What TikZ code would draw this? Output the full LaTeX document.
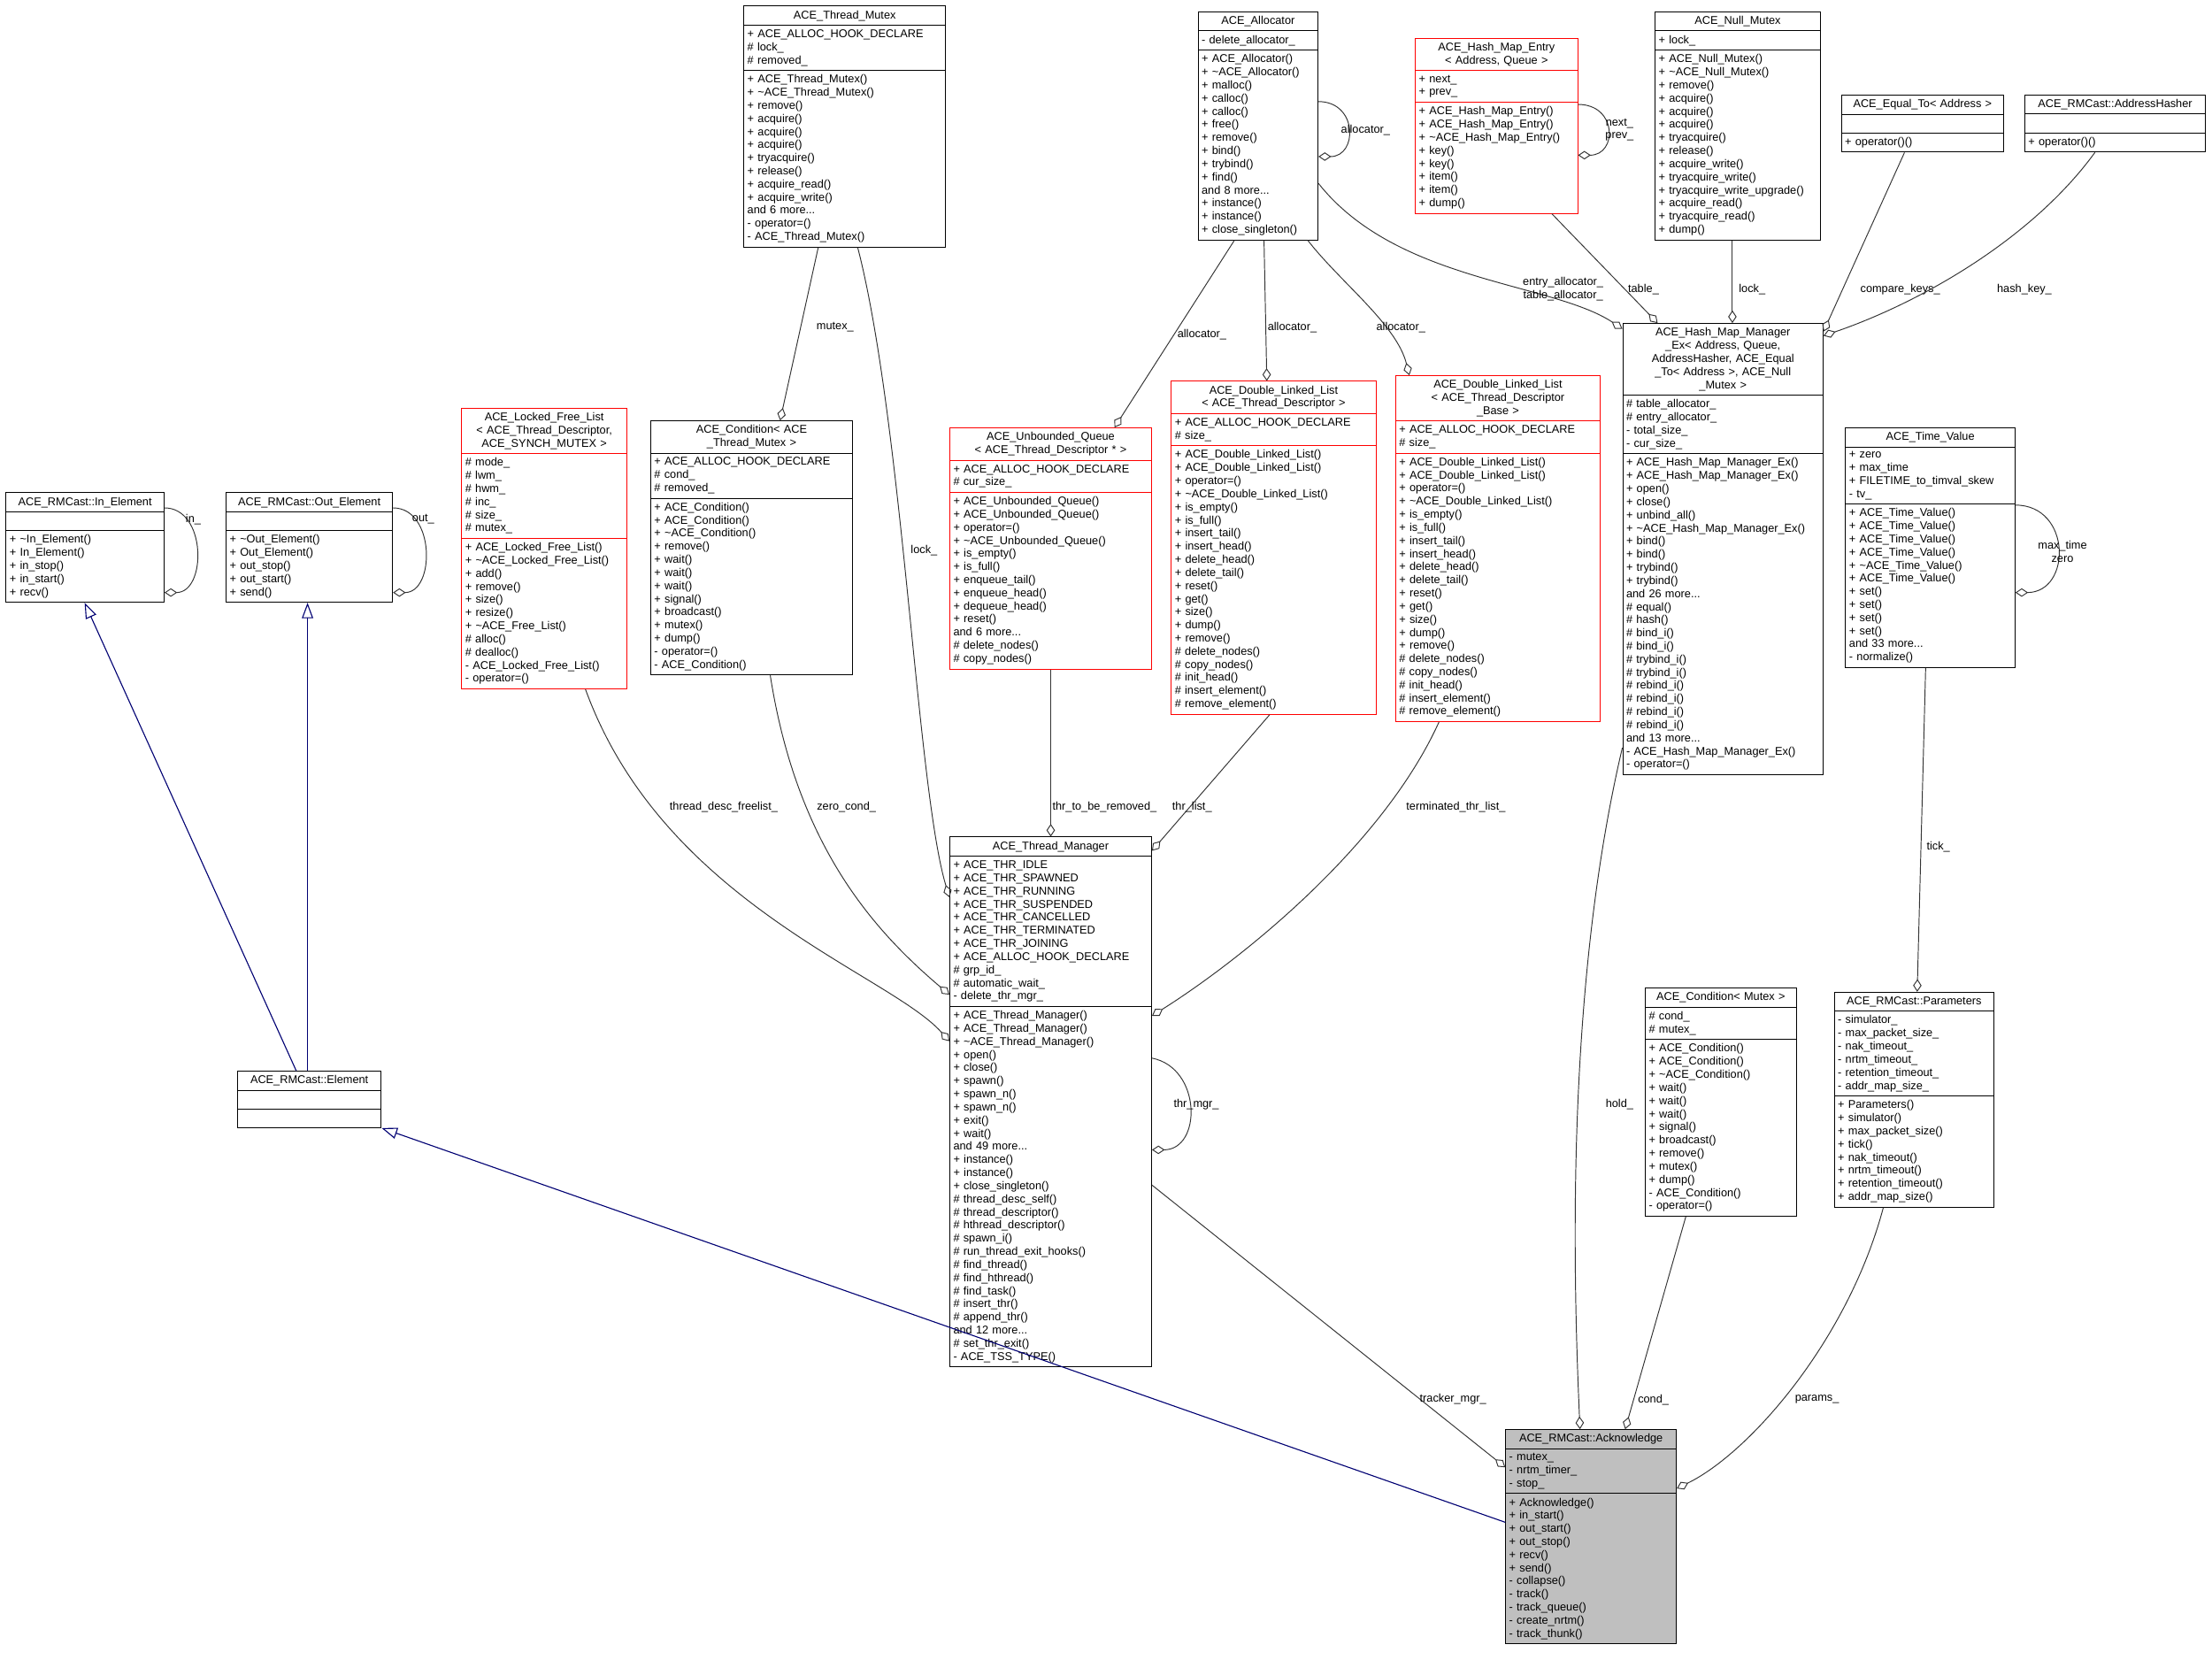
\documentclass[tikz,border=0pt]{standalone}
\usepackage{fontspec}
\setmainfont{Liberation Sans}
\usetikzlibrary{shapes.multipart,arrows.meta}
\catcode`\_=12
\newcommand\tl{\textasciitilde}
\tikzset{
 cls/.style={rectangle split, rectangle split parts=3, draw=black, fill=white, anchor=north west,
   inner xsep=2.5pt, inner ysep=2.8pt, font=\fontsize{8}{9.3}\selectfont, line width=0.6pt, align=left,
   rectangle split empty part height=7pt},
 tcls/.style={cls, draw=red},
 lbl/.style={font=\fontsize{8}{9.3}\selectfont, inner sep=0pt, align=center},
 agg/.style={draw=black!80, line width=0.6pt, -{Diamond[open,length=9pt,width=6pt]}},
 inh/.style={draw=blue!45!black, line width=0.7pt, -{Triangle[open,length=11pt,width=8pt]}}
}
\begin{document}
\begin{tikzpicture}[x=1pt,y=-1pt]
\useasboundingbox (0,0) rectangle (1568,1176);
\fill[white] (0,0) rectangle (1568,1176);
\newcommand\E{\rule{0pt}{7pt}}
% boxes
\node[cls,text width=138pt] (tmx) at (527,4) {\centering ACE_Thread_Mutex\par
\nodepart{two}+ ACE_ALLOC_HOOK_DECLARE\\\# lock_\\\# removed_
\nodepart{three}+ ACE_Thread_Mutex()\\+ \tl ACE_Thread_Mutex()\\+ remove()\\+ acquire()\\+ acquire()\\+ acquire()\\+ tryacquire()\\+ release()\\+ acquire_read()\\+ acquire_write()\\and 6 more...\\- operator=()\\- ACE_Thread_Mutex()};
\node[cls,text width=80pt] (alloc) at (849,8) {\centering ACE_Allocator\par
\nodepart{two}- delete_allocator_
\nodepart{three}+ ACE_Allocator()\\+ \tl ACE_Allocator()\\+ malloc()\\+ calloc()\\+ calloc()\\+ free()\\+ remove()\\+ bind()\\+ trybind()\\+ find()\\and 8 more...\\+ instance()\\+ instance()\\+ close_singleton()};
\node[tcls,text width=110pt] (hme) at (1003,27) {\centering ACE_Hash_Map_Entry\\< Address, Queue >\par
\nodepart{two}+ next_\\+ prev_
\nodepart{three}+ ACE_Hash_Map_Entry()\\+ ACE_Hash_Map_Entry()\\+ \tl ACE_Hash_Map_Entry()\\+ key()\\+ key()\\+ item()\\+ item()\\+ dump()};
\node[cls,text width=112pt] (nm) at (1173,8) {\centering ACE_Null_Mutex\par
\nodepart{two}+ lock_
\nodepart{three}+ ACE_Null_Mutex()\\+ \tl ACE_Null_Mutex()\\+ remove()\\+ acquire()\\+ acquire()\\+ acquire()\\+ tryacquire()\\+ release()\\+ acquire_write()\\+ tryacquire_write()\\+ tryacquire_write_upgrade()\\+ acquire_read()\\+ tryacquire_read()\\+ dump()};
\node[cls,text width=110pt] (eq) at (1305,67) {\centering ACE_Equal_To< Address >\par
\nodepart{two}\E
\nodepart{three}+ operator()()};
\node[cls,text width=123pt] (ah) at (1435,67) {\centering ACE_RMCast::AddressHasher\par
\nodepart{two}\E
\nodepart{three}+ operator()()};
\node[cls,text width=137pt] (hmm) at (1150,229) {\centering ACE_Hash_Map_Manager\\_Ex< Address, Queue,\\ AddressHasher, ACE_Equal\\_To< Address >, ACE_Null\\_Mutex >\par
\nodepart{two}\# table_allocator_\\\# entry_allocator_\\- total_size_\\- cur_size_
\nodepart{three}+ ACE_Hash_Map_Manager_Ex()\\+ ACE_Hash_Map_Manager_Ex()\\+ open()\\+ close()\\+ unbind_all()\\+ \tl ACE_Hash_Map_Manager_Ex()\\+ bind()\\+ bind()\\+ trybind()\\+ trybind()\\and 26 more...\\\# equal()\\\# hash()\\\# bind_i()\\\# bind_i()\\\# trybind_i()\\\# trybind_i()\\\# rebind_i()\\\# rebind_i()\\\# rebind_i()\\\# rebind_i()\\and 13 more...\\- ACE_Hash_Map_Manager_Ex()\\- operator=()};
\node[cls,text width=115pt] (tv) at (1308,303) {\centering ACE_Time_Value\par
\nodepart{two}+ zero\\+ max_time\\+ FILETIME_to_timval_skew\\- tv_
\nodepart{three}+ ACE_Time_Value()\\+ ACE_Time_Value()\\+ ACE_Time_Value()\\+ ACE_Time_Value()\\+ \tl ACE_Time_Value()\\+ ACE_Time_Value()\\+ set()\\+ set()\\+ set()\\+ set()\\and 33 more...\\- normalize()};
\node[tcls,text width=112pt] (lfl) at (327,289) {\centering ACE_Locked_Free_List\\< ACE_Thread_Descriptor,\\ ACE_SYNCH_MUTEX >\par
\nodepart{two}\# mode_\\\# lwm_\\\# hwm_\\\# inc_\\\# size_\\\# mutex_
\nodepart{three}+ ACE_Locked_Free_List()\\+ \tl ACE_Locked_Free_List()\\+ add()\\+ remove()\\+ size()\\+ resize()\\+ \tl ACE_Free_List()\\\# alloc()\\\# dealloc()\\- ACE_Locked_Free_List()\\- operator=()};
\node[cls,text width=138pt] (cond) at (461,298) {\centering ACE_Condition< ACE\\_Thread_Mutex >\par
\nodepart{two}+ ACE_ALLOC_HOOK_DECLARE\\\# cond_\\\# removed_
\nodepart{three}+ ACE_Condition()\\+ ACE_Condition()\\+ \tl ACE_Condition()\\+ remove()\\+ wait()\\+ wait()\\+ wait()\\+ signal()\\+ broadcast()\\+ mutex()\\+ dump()\\- operator=()\\- ACE_Condition()};
\node[tcls,text width=138pt] (uq) at (673,303) {\centering ACE_Unbounded_Queue\\< ACE_Thread_Descriptor * >\par
\nodepart{two}+ ACE_ALLOC_HOOK_DECLARE\\\# cur_size_
\nodepart{three}+ ACE_Unbounded_Queue()\\+ ACE_Unbounded_Queue()\\+ operator=()\\+ \tl ACE_Unbounded_Queue()\\+ is_empty()\\+ is_full()\\+ enqueue_tail()\\+ enqueue_head()\\+ dequeue_head()\\+ reset()\\and 6 more...\\\# delete_nodes()\\\# copy_nodes()};
\node[tcls,text width=140pt] (dlla) at (830,270) {\centering ACE_Double_Linked_List\\< ACE_Thread_Descriptor >\par
\nodepart{two}+ ACE_ALLOC_HOOK_DECLARE\\\# size_
\nodepart{three}+ ACE_Double_Linked_List()\\+ ACE_Double_Linked_List()\\+ operator=()\\+ \tl ACE_Double_Linked_List()\\+ is_empty()\\+ is_full()\\+ insert_tail()\\+ insert_head()\\+ delete_head()\\+ delete_tail()\\+ reset()\\+ get()\\+ size()\\+ dump()\\+ remove()\\\# delete_nodes()\\\# copy_nodes()\\\# init_head()\\\# insert_element()\\\# remove_element()};
\node[tcls,text width=140pt] (dllb) at (989,266) {\centering ACE_Double_Linked_List\\< ACE_Thread_Descriptor\\_Base >\par
\nodepart{two}+ ACE_ALLOC_HOOK_DECLARE\\\# size_
\nodepart{three}+ ACE_Double_Linked_List()\\+ ACE_Double_Linked_List()\\+ operator=()\\+ \tl ACE_Double_Linked_List()\\+ is_empty()\\+ is_full()\\+ insert_tail()\\+ insert_head()\\+ delete_head()\\+ delete_tail()\\+ reset()\\+ get()\\+ size()\\+ dump()\\+ remove()\\\# delete_nodes()\\\# copy_nodes()\\\# init_head()\\\# insert_element()\\\# remove_element()};
\node[cls,text width=107pt] (inel) at (4,349) {\centering ACE_RMCast::In_Element\par
\nodepart{two}\E
\nodepart{three}+ \tl In_Element()\\+ In_Element()\\+ in_stop()\\+ in_start()\\+ recv()};
\node[cls,text width=113pt] (outel) at (160,349) {\centering ACE_RMCast::Out_Element\par
\nodepart{two}\E
\nodepart{three}+ \tl Out_Element()\\+ Out_Element()\\+ out_stop()\\+ out_start()\\+ send()};
\node[cls,text width=97pt] (elem) at (168,759) {\centering ACE_RMCast::Element\par
\nodepart{two}\E
\nodepart{three}\E};
\node[cls,text width=138pt] (tmgr) at (673,593) {\centering ACE_Thread_Manager\par
\nodepart{two}+ ACE_THR_IDLE\\+ ACE_THR_SPAWNED\\+ ACE_THR_RUNNING\\+ ACE_THR_SUSPENDED\\+ ACE_THR_CANCELLED\\+ ACE_THR_TERMINATED\\+ ACE_THR_JOINING\\+ ACE_ALLOC_HOOK_DECLARE\\\# grp_id_\\\# automatic_wait_\\- delete_thr_mgr_
\nodepart{three}+ ACE_Thread_Manager()\\+ ACE_Thread_Manager()\\+ \tl ACE_Thread_Manager()\\+ open()\\+ close()\\+ spawn()\\+ spawn_n()\\+ spawn_n()\\+ exit()\\+ wait()\\and 49 more...\\+ instance()\\+ instance()\\+ close_singleton()\\\# thread_desc_self()\\\# thread_descriptor()\\\# hthread_descriptor()\\\# spawn_i()\\\# run_thread_exit_hooks()\\\# find_thread()\\\# find_hthread()\\\# find_task()\\\# insert_thr()\\\# append_thr()\\and 12 more...\\\# set_thr_exit()\\- ACE_TSS_TYPE()};
\node[cls,text width=102pt] (condm) at (1166,700) {\centering ACE_Condition< Mutex >\par
\nodepart{two}\# cond_\\\# mutex_
\nodepart{three}+ ACE_Condition()\\+ ACE_Condition()\\+ \tl ACE_Condition()\\+ wait()\\+ wait()\\+ wait()\\+ signal()\\+ broadcast()\\+ remove()\\+ mutex()\\+ dump()\\- ACE_Condition()\\- operator=()};
\node[cls,text width=108pt] (par) at (1300,703) {\centering ACE_RMCast::Parameters\par
\nodepart{two}- simulator_\\- max_packet_size_\\- nak_timeout_\\- nrtm_timeout_\\- retention_timeout_\\- addr_map_size_
\nodepart{three}+ Parameters()\\+ simulator()\\+ max_packet_size()\\+ tick()\\+ nak_timeout()\\+ nrtm_timeout()\\+ retention_timeout()\\+ addr_map_size()};
\node[cls,text width=116pt,fill=black!25] (ack) at (1067,1013) {\centering ACE_RMCast::Acknowledge\par
\nodepart{two}- mutex_\\- nrtm_timer_\\- stop_
\nodepart{three}+ Acknowledge()\\+ in_start()\\+ out_start()\\+ out_stop()\\+ recv()\\+ send()\\- collapse()\\- track()\\- track_queue()\\- create_nrtm()\\- track_thunk()};
% aggregation edges
\draw[agg] ([xshift=53pt]tmx.south west) -- ([xshift=92pt]cond.north west);
\node[lbl] (l1) at (592,232) {mutex_};
\draw[agg] ([xshift=81pt]tmx.south west) .. controls (640,300) and (650,560) .. ([yshift=-43pt]tmgr.north west);
\node[lbl] (l2) at (655,390) {lock_};
\draw[agg] ([yshift=-64pt]alloc.north east) .. controls +(28,0) and +(28,0) .. ([yshift=-103pt]alloc.north east);
\node[lbl] (l3) at (968,92) {allocator_};
\draw[agg] ([xshift=26pt]alloc.south west) -- ([xshift=117pt]uq.north west);
\node[lbl] (l4) at (852,237) {allocator_};
\draw[agg] ([xshift=47pt]alloc.south west) -- ([xshift=68pt]dlla.north west);
\node[lbl] (l5) at (916,232) {allocator_};
\draw[agg] ([xshift=78pt]alloc.south west) .. controls (950,200) and (990,230) .. ([xshift=10pt]dllb.north west);
\node[lbl] (l6) at (993,232) {allocator_};
\draw[agg] ([yshift=-122pt]alloc.north east) .. controls (990,200) and (1100,200) .. ([yshift=-4pt]hmm.north west);
\node[lbl] (l7) at (1108,205) {entry_allocator_\\table_allocator_};
\draw[agg] ([yshift=-47pt]hme.north east) .. controls +(28,0) and +(28,0) .. ([yshift=-83pt]hme.north east);
\node[lbl] (l8) at (1148,92) {next_\\prev_};
\draw[agg] ([xshift=97pt]hme.south west) -- ([xshift=25pt]hmm.north west);
\node[lbl] (l9) at (1165,205) {table_};
\draw[agg] ([xshift=55pt]nm.south west) -- ([xshift=78pt]hmm.north west);
\node[lbl] (l10) at (1242,205) {lock_};
\draw[agg] ([xshift=45pt]eq.south west) -- ([yshift=-6pt]hmm.north east);
\node[lbl] (l11) at (1347,205) {compare_keys_};
\draw[agg] ([xshift=50pt]ah.south west) .. controls (1440,170) and (1360,215) .. ([yshift=-9pt]hmm.north east);
\node[lbl] (l12) at (1435,205) {hash_key_};
\draw[agg] ([yshift=-55pt]tv.north east) .. controls +(40,0) and +(40,0) .. ([yshift=-117pt]tv.north east);
\node[lbl] (l13) at (1462,391) {max_time\\zero};
\draw[agg] ([xshift=57pt]tv.south west) -- ([xshift=59pt]par.north west);
\node[lbl] (l14) at (1374,600) {tick_};
\draw[agg] ([yshift=-11pt]inel.north east) .. controls +(30,0) and +(30,0) .. ([yshift=-71pt]inel.north east);
\node[lbl] (l15) at (137,368) {in_};
\draw[agg] ([yshift=-11pt]outel.north east) .. controls +(30,0) and +(30,0) .. ([yshift=-71pt]outel.north east);
\node[lbl] (l16) at (300,368) {out_};
\draw[agg] ([xshift=88pt]lfl.south west) .. controls (470,640) and (630,690) .. ([yshift=-145pt]tmgr.north west);
\node[lbl] (l17) at (513,572) {thread_desc_freelist_};
\draw[agg] ([xshift=85pt]cond.south west) .. controls (565,600) and (620,660) .. ([yshift=-112pt]tmgr.north west);
\node[lbl] (l18) at (600,572) {zero_cond_};
\draw[agg] (uq.south) -- (tmgr.north);
\node[lbl] (l19) at (783,572) {thr_to_be_removed_};
\draw[agg] ([xshift=70pt]dlla.south west) -- ([yshift=-10pt]tmgr.north east);
\node[lbl] (l20) at (845,572) {thr_list_};
\draw[agg] ([xshift=31pt]dllb.south west) .. controls (980,600) and (880,680) .. ([yshift=-127pt]tmgr.north east);
\node[lbl] (l21) at (1032,572) {terminated_thr_list_};
\draw[agg] ([yshift=-157pt]tmgr.north east) .. controls (852,757) and (852,815) .. ([yshift=-222pt]tmgr.north east);
\node[lbl] (l22) at (848,783) {thr_mgr_};
\draw[agg] ([yshift=-247pt]tmgr.north east) -- ([yshift=-27pt]ack.north west);
\node[lbl] (l23) at (1030,992) {tracker_mgr_};
\draw[agg] ([yshift=-301pt]hmm.north west) .. controls (1110,700) and (1115,900) .. ([xshift=53pt]ack.north west);
\node[lbl] (l24) at (1148,783) {hold_};
\draw[agg] ([xshift=29pt]condm.south west) -- ([xshift=85pt]ack.north west);
\node[lbl] (l25) at (1172,992) {cond_};
\draw[agg] ([xshift=35pt]par.south west) .. controls (1310,950) and (1240,1030) .. ([yshift=-42pt]ack.north east);
\node[lbl] (l26) at (1288,992) {params_};
% inheritance
\draw[inh] ([xshift=42pt]elem.north west) -- ([xshift=56pt]inel.south west);
\draw[inh] ([xshift=50pt]elem.north west) -- ([xshift=58pt]outel.south west);
\draw[inh] ([yshift=-66pt]ack.north west) -- (elem.south east);
\end{tikzpicture}
\end{document}
